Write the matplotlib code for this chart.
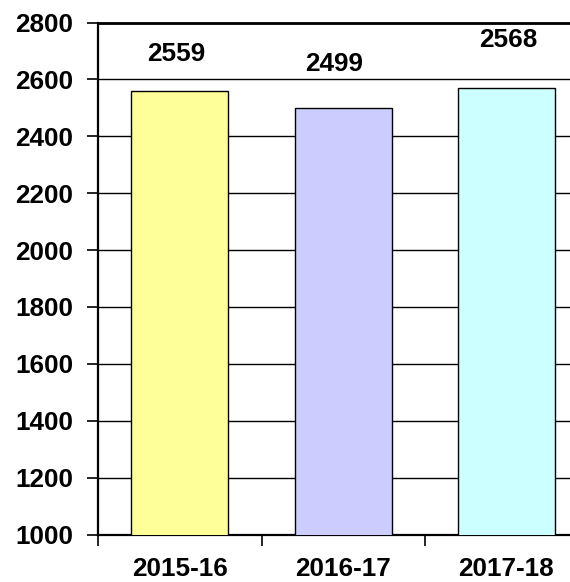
import matplotlib
matplotlib.use("Agg")
import matplotlib.pyplot as plt

categories = ["2015-16", "2016-17", "2017-18"]
values = [2559, 2499, 2568]
colors = ["#FFFF99", "#CCCCFF", "#CCFFFF"]
yticks = [1000, 1200, 1400, 1600, 1800, 2000, 2200, 2400, 2600, 2800]

# label placement (layout only)
label_dx = [-0.025, -0.055, 0.012]
label_y = [2689, 2654, 2737]

FS = 18.8
plt.rcParams['font.family'] = ['Liberation Sans', 'DejaVu Sans']
fig = plt.figure(figsize=(5.70, 5.82), dpi=100)
ax = fig.add_axes([98.3 / 570, 1 - 534.5 / 582, 489.7 / 570, 512 / 582])

x = list(range(len(categories)))
ax.bar(x, values, width=0.595, color=colors, edgecolor="black", linewidth=1.0, zorder=3)

for i, v in enumerate(values):
    ax.text(i + label_dx[i], label_y[i], str(v), ha="center", va="center",
            fontsize=FS, fontweight="bold", color="black")

ax.set_xlim(-0.5, 2.5)
ax.set_ylim(1000, 2800)
ax.set_yticks(yticks)
ax.set_yticklabels([str(t) for t in yticks], fontsize=FS, fontweight="bold")
ax.set_xticks([-0.5, 0.5, 1.5], minor=False)
ax.set_xticklabels([])
ax.set_xticks(x, minor=True)
ax.set_xticklabels(categories, minor=True, fontsize=FS, fontweight="bold")
ax.tick_params(axis="x", which="minor", length=0, pad=16)
ax.tick_params(axis="x", which="major", length=8, width=1.2, direction="out")
ax.tick_params(axis="y", length=8, width=1.2, direction="out", pad=10)

ax.yaxis.grid(True, color="black", linewidth=1.0, zorder=0)
ax.set_axisbelow(True)
for s in ["left", "bottom", "top"]:
    ax.spines[s].set_color("black")
ax.spines["left"].set_linewidth(1.6)
ax.spines["bottom"].set_linewidth(1.6)
ax.spines["top"].set_linewidth(2.0)
ax.spines["right"].set_linewidth(1.6)

fig.savefig("out.png", dpi=100)
